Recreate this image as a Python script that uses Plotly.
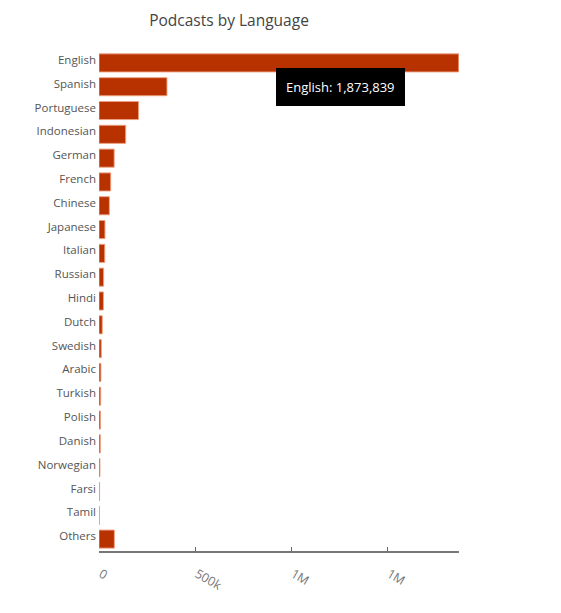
import plotly.graph_objects as go

languages = ['English', 'Spanish', 'Portuguese', 'Indonesian', 'German', 'French', 'Chinese',
             'Japanese', 'Italian', 'Russian', 'Hindi', 'Dutch', 'Swedish', 'Arabic', 'Turkish',
             'Polish', 'Danish', 'Norwegian', 'Farsi', 'Tamil', 'Others']
podcasts = [1873839, 354000, 206000, 139000, 79000, 61000, 54000,
            31000, 30000, 24000, 23000, 17000, 12000, 10000, 9000,
            8000, 7000, 5000, 3000, 2000, 80000]
tick_vals = [0, 500000, 1000000, 1500000]
tick_text = ['0', '500k', '1M', '1M']

fig = go.Figure()
fig.add_trace(go.Bar(x=podcasts, y=languages,
                     orientation='h',
                     marker=dict(color='#b83200',
                                 line=dict(color='rgba(240,160,130,0.9)', width=1)),
                     hovertemplate='%{y}: %{x:,}<extra></extra>'))

# the tooltip in the picture is drawn as a fixed label
fig.add_annotation(x=1260000, y=0.927, xref='x', yref='paper',
                   xanchor='center', yanchor='middle',
                   text='English: 1,873,839', showarrow=False,
                   bgcolor='black', bordercolor='black', borderpad=9,
                   font=dict(color='white', size=13))

fig.update_layout(width=561, height=613,
                  margin=dict(l=91, r=110, t=43, b=70),
                  paper_bgcolor='white', plot_bgcolor='white',
                  font=dict(family='Open Sans', size=11.5, color='#555'),
                  title=dict(text='Podcasts by Language', x=0.394, xanchor='center',
                             y=0.979, yanchor='middle', yref='container', xref='container',
                             font=dict(size=15.5, color='#444')),
                  bargap=0.24,
                  showlegend=False,
                  xaxis=dict(range=[0, 1875000], automargin=False,
                             tickvals=tick_vals, ticktext=tick_text,
                             tickangle=30, ticklabelstandoff=9, ticklabelshift=2,
                             tickfont=dict(color='#777', size=12.5),
                             ticks='inside', ticklen=4, tickcolor='#666',
                             showline=True, linecolor='#777', linewidth=2,
                             showgrid=False, zeroline=False),
                  yaxis=dict(autorange='reversed', automargin=False, showgrid=False,
                             showline=False, ticks='', ticklabelstandoff=2,
                             ticklabelshift=3, zeroline=False))

fig.write_html('out.html')
